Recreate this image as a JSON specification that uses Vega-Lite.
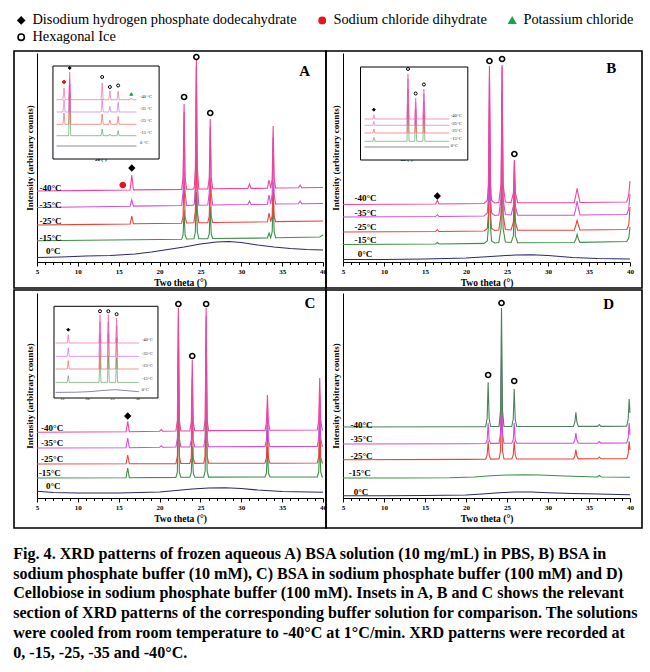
{
"$schema":"https://vega.github.io/schema/vega-lite/v6.json",
"padding":{"left":13,"top":8,"right":9,"bottom":4},
"background":"white",
"spacing":0,
"title":{"text":["Fig. 4. XRD patterns of frozen aqueous A) BSA solution (10 mg/mL) in PBS, B) BSA in","sodium phosphate buffer (10 mM), C) BSA in sodium phosphate buffer (100 mM) and D)","Cellobiose in sodium phosphate buffer (100 mM). Insets in A, B and C shows the relevant","section of XRD patterns of the corresponding buffer solution for comparison. The solutions","were cooled from room temperature to -40°C at 1°C/min. XRD patterns were recorded at","0, -15, -25, -35 and -40°C."],"orient":"bottom","anchor":"start","font":"Liberation Serif","fontSize":16.1,"fontWeight":"bold","color":"black","lineHeight":19.8,"offset":17},
"config":{
"font":"Liberation Serif",
"view":{"stroke":"black","strokeWidth":1.6},
"axis":{"grid":false,"domainColor":"black","tickColor":"black","labelColor":"black","titleColor":"black","labelFont":"Liberation Serif","titleFont":"Liberation Serif","labelFontWeight":"bold","titleFontWeight":"bold"},
"legend":{"orient":"none","legendX":0,"legendY":5,"direction":"horizontal","columns":3,"labelFont":"Liberation Serif","labelFontSize":14.4,"labelColor":"black","symbolSize":40,"symbolStrokeWidth":1.6,"columnPadding":18,"rowPadding":2,"labelLimit":400},
"text":{"color":"black","font":"Liberation Serif"}
},
"datasets":{
"lines":[
{"p":"A","s":"0","x":5,"y":4.5},{"p":"A","s":"0","x":8,"y":5},{"p":"A","s":"0","x":11,"y":6},{"p":"A","s":"0","x":14,"y":6.5},{"p":"A","s":"0","x":17,"y":8},{"p":"A","s":"0","x":19,"y":10},{"p":"A","s":"0","x":21,"y":12.5},{"p":"A","s":"0","x":23,"y":15},{"p":"A","s":"0","x":25,"y":18},{"p":"A","s":"0","x":27,"y":20},{"p":"A","s":"0","x":28.5,"y":20.5},{"p":"A","s":"0","x":30,"y":19.5},{"p":"A","s":"0","x":32,"y":17},{"p":"A","s":"0","x":34,"y":15},{"p":"A","s":"0","x":36,"y":13.5},{"p":"A","s":"0","x":38,"y":12.5},{"p":"A","s":"0","x":40,"y":12},
{"p":"A","s":"-15","x":5,"y":21.3},{"p":"A","s":"-15","x":14,"y":22},{"p":"A","s":"-15","x":22.7,"y":22.8},{"p":"A","s":"-15","x":22.88,"y":27},{"p":"A","s":"-15","x":23.0,"y":52},{"p":"A","s":"-15","x":23.12,"y":27},{"p":"A","s":"-15","x":23.3,"y":23},{"p":"A","s":"-15","x":24.2,"y":23.2},{"p":"A","s":"-15","x":24.38,"y":30},{"p":"A","s":"-15","x":24.5,"y":70},{"p":"A","s":"-15","x":24.62,"y":30},{"p":"A","s":"-15","x":24.8,"y":23.3},{"p":"A","s":"-15","x":25.9,"y":23.4},{"p":"A","s":"-15","x":26.08,"y":28},{"p":"A","s":"-15","x":26.2,"y":55},{"p":"A","s":"-15","x":26.32,"y":28},{"p":"A","s":"-15","x":26.5,"y":23.5},{"p":"A","s":"-15","x":33.2,"y":24},{"p":"A","s":"-15","x":33.4,"y":29},{"p":"A","s":"-15","x":33.6,"y":24.2},{"p":"A","s":"-15","x":33.78,"y":30},{"p":"A","s":"-15","x":33.9,"y":65},{"p":"A","s":"-15","x":34.02,"y":30},{"p":"A","s":"-15","x":34.2,"y":24.3},{"p":"A","s":"-15","x":39.6,"y":25},{"p":"A","s":"-15","x":40,"y":27},
{"p":"A","s":"-25","x":5,"y":37},{"p":"A","s":"-25","x":12,"y":37.6},{"p":"A","s":"-25","x":16.4,"y":38},{"p":"A","s":"-25","x":16.6,"y":46},{"p":"A","s":"-25","x":16.8,"y":38.2},{"p":"A","s":"-25","x":22.7,"y":38.8},{"p":"A","s":"-25","x":22.88,"y":46},{"p":"A","s":"-25","x":23.0,"y":90},{"p":"A","s":"-25","x":23.12,"y":46},{"p":"A","s":"-25","x":23.3,"y":39},{"p":"A","s":"-25","x":24.2,"y":39.2},{"p":"A","s":"-25","x":24.38,"y":51},{"p":"A","s":"-25","x":24.5,"y":120},{"p":"A","s":"-25","x":24.62,"y":51},{"p":"A","s":"-25","x":24.8,"y":39.3},{"p":"A","s":"-25","x":25.9,"y":39.4},{"p":"A","s":"-25","x":26.08,"y":46},{"p":"A","s":"-25","x":26.2,"y":85},{"p":"A","s":"-25","x":26.32,"y":46},{"p":"A","s":"-25","x":26.5,"y":39.5},{"p":"A","s":"-25","x":33.2,"y":40.2},{"p":"A","s":"-25","x":33.4,"y":49},{"p":"A","s":"-25","x":33.6,"y":40.3},{"p":"A","s":"-25","x":33.78,"y":46},{"p":"A","s":"-25","x":33.9,"y":80},{"p":"A","s":"-25","x":34.02,"y":46},{"p":"A","s":"-25","x":34.2,"y":40.4},{"p":"A","s":"-25","x":40,"y":41},
{"p":"A","s":"-35","x":5,"y":54.5},{"p":"A","s":"-35","x":12,"y":55.3},{"p":"A","s":"-35","x":16.4,"y":55.8},{"p":"A","s":"-35","x":16.6,"y":62},{"p":"A","s":"-35","x":16.8,"y":55.9},{"p":"A","s":"-35","x":22.7,"y":56.5},{"p":"A","s":"-35","x":22.88,"y":70},{"p":"A","s":"-35","x":23.0,"y":150},{"p":"A","s":"-35","x":23.12,"y":70},{"p":"A","s":"-35","x":23.3,"y":56.6},{"p":"A","s":"-35","x":24.1,"y":56.7},{"p":"A","s":"-35","x":24.25,"y":58},{"p":"A","s":"-35","x":24.38,"y":78},{"p":"A","s":"-35","x":24.5,"y":195},{"p":"A","s":"-35","x":24.62,"y":78},{"p":"A","s":"-35","x":24.8,"y":56.8},{"p":"A","s":"-35","x":25.9,"y":57},{"p":"A","s":"-35","x":26.08,"y":69},{"p":"A","s":"-35","x":26.2,"y":135},{"p":"A","s":"-35","x":26.32,"y":69},{"p":"A","s":"-35","x":26.5,"y":57},{"p":"A","s":"-35","x":30.8,"y":57.5},{"p":"A","s":"-35","x":31.0,"y":61},{"p":"A","s":"-35","x":31.2,"y":57.5},{"p":"A","s":"-35","x":33.2,"y":57.8},{"p":"A","s":"-35","x":33.4,"y":67},{"p":"A","s":"-35","x":33.6,"y":57.9},{"p":"A","s":"-35","x":33.78,"y":68},{"p":"A","s":"-35","x":33.9,"y":125},{"p":"A","s":"-35","x":34.02,"y":68},{"p":"A","s":"-35","x":34.2,"y":58},{"p":"A","s":"-35","x":37.0,"y":58.2},{"p":"A","s":"-35","x":37.2,"y":61},{"p":"A","s":"-35","x":37.4,"y":58.2},{"p":"A","s":"-35","x":40,"y":58.5},
{"p":"A","s":"-40","x":5,"y":71},{"p":"A","s":"-40","x":12,"y":71.6},{"p":"A","s":"-40","x":16.4,"y":72},{"p":"A","s":"-40","x":16.6,"y":87},{"p":"A","s":"-40","x":16.8,"y":72.1},{"p":"A","s":"-40","x":22.7,"y":72.6},{"p":"A","s":"-40","x":22.88,"y":85},{"p":"A","s":"-40","x":23.0,"y":158},{"p":"A","s":"-40","x":23.12,"y":85},{"p":"A","s":"-40","x":23.3,"y":72.7},{"p":"A","s":"-40","x":24.1,"y":72.9},{"p":"A","s":"-40","x":24.25,"y":74.5},{"p":"A","s":"-40","x":24.38,"y":94},{"p":"A","s":"-40","x":24.5,"y":204},{"p":"A","s":"-40","x":24.62,"y":94},{"p":"A","s":"-40","x":24.8,"y":73},{"p":"A","s":"-40","x":25.9,"y":73.1},{"p":"A","s":"-40","x":26.08,"y":84},{"p":"A","s":"-40","x":26.2,"y":143},{"p":"A","s":"-40","x":26.32,"y":84},{"p":"A","s":"-40","x":26.5,"y":73.2},{"p":"A","s":"-40","x":30.8,"y":73.6},{"p":"A","s":"-40","x":31.0,"y":78},{"p":"A","s":"-40","x":31.2,"y":73.6},{"p":"A","s":"-40","x":33.2,"y":73.8},{"p":"A","s":"-40","x":33.4,"y":82},{"p":"A","s":"-40","x":33.6,"y":73.9},{"p":"A","s":"-40","x":33.78,"y":83},{"p":"A","s":"-40","x":33.9,"y":136},{"p":"A","s":"-40","x":34.02,"y":83},{"p":"A","s":"-40","x":34.2,"y":74},{"p":"A","s":"-40","x":37.0,"y":74.2},{"p":"A","s":"-40","x":37.2,"y":77},{"p":"A","s":"-40","x":37.4,"y":74.2},{"p":"A","s":"-40","x":40,"y":74.5},

{"p":"B","s":"0","x":5,"y":2.5},{"p":"B","s":"0","x":10,"y":2.5},{"p":"B","s":"0","x":15,"y":3},{"p":"B","s":"0","x":20,"y":4},{"p":"B","s":"0","x":23,"y":5.5},{"p":"B","s":"0","x":26,"y":7},{"p":"B","s":"0","x":28,"y":7.3},{"p":"B","s":"0","x":30,"y":6.5},{"p":"B","s":"0","x":33,"y":4.5},{"p":"B","s":"0","x":36,"y":3.5},{"p":"B","s":"0","x":40,"y":3},
{"p":"B","s":"-15","x":5,"y":17.5},{"p":"B","s":"-15","x":16.3,"y":18},{"p":"B","s":"-15","x":16.5,"y":19.5},{"p":"B","s":"-15","x":16.7,"y":18},{"p":"B","s":"-15","x":22.2,"y":18.6},{"p":"B","s":"-15","x":22.6,"y":21},{"p":"B","s":"-15","x":22.74,"y":36},{"p":"B","s":"-15","x":22.86,"y":120},{"p":"B","s":"-15","x":22.98,"y":36},{"p":"B","s":"-15","x":23.12,"y":21},{"p":"B","s":"-15","x":23.5,"y":19},{"p":"B","s":"-15","x":24.0,"y":19.5},{"p":"B","s":"-15","x":24.28,"y":34},{"p":"B","s":"-15","x":24.4,"y":130},{"p":"B","s":"-15","x":24.52,"y":34},{"p":"B","s":"-15","x":24.8,"y":20},{"p":"B","s":"-15","x":25.5,"y":19.5},{"p":"B","s":"-15","x":25.78,"y":26},{"p":"B","s":"-15","x":25.9,"y":60},{"p":"B","s":"-15","x":26.02,"y":26},{"p":"B","s":"-15","x":26.3,"y":19.3},{"p":"B","s":"-15","x":33.2,"y":19.5},{"p":"B","s":"-15","x":33.4,"y":23},{"p":"B","s":"-15","x":33.55,"y":27.7},{"p":"B","s":"-15","x":33.7,"y":23},{"p":"B","s":"-15","x":33.9,"y":19.6},{"p":"B","s":"-15","x":39.6,"y":20.5},{"p":"B","s":"-15","x":39.85,"y":24},{"p":"B","s":"-15","x":40,"y":35},
{"p":"B","s":"-25","x":5,"y":30},{"p":"B","s":"-25","x":16.3,"y":30.5},{"p":"B","s":"-25","x":16.5,"y":32.5},{"p":"B","s":"-25","x":16.7,"y":30.5},{"p":"B","s":"-25","x":22.2,"y":31},{"p":"B","s":"-25","x":22.6,"y":33.5},{"p":"B","s":"-25","x":22.74,"y":50},{"p":"B","s":"-25","x":22.86,"y":160},{"p":"B","s":"-25","x":22.98,"y":50},{"p":"B","s":"-25","x":23.12,"y":33.5},{"p":"B","s":"-25","x":23.5,"y":31.5},{"p":"B","s":"-25","x":24.0,"y":32},{"p":"B","s":"-25","x":24.28,"y":48},{"p":"B","s":"-25","x":24.4,"y":170},{"p":"B","s":"-25","x":24.52,"y":48},{"p":"B","s":"-25","x":24.8,"y":32.5},{"p":"B","s":"-25","x":25.5,"y":32},{"p":"B","s":"-25","x":25.78,"y":40},{"p":"B","s":"-25","x":25.9,"y":85},{"p":"B","s":"-25","x":26.02,"y":40},{"p":"B","s":"-25","x":26.3,"y":31.8},{"p":"B","s":"-25","x":33.2,"y":31.8},{"p":"B","s":"-25","x":33.4,"y":37},{"p":"B","s":"-25","x":33.55,"y":41.7},{"p":"B","s":"-25","x":33.7,"y":37},{"p":"B","s":"-25","x":33.9,"y":32},{"p":"B","s":"-25","x":39.6,"y":32.5},{"p":"B","s":"-25","x":39.85,"y":37},{"p":"B","s":"-25","x":40,"y":55},
{"p":"B","s":"-35","x":5,"y":45},{"p":"B","s":"-35","x":16.3,"y":45.5},{"p":"B","s":"-35","x":16.5,"y":47.5},{"p":"B","s":"-35","x":16.7,"y":45.5},{"p":"B","s":"-35","x":22.2,"y":46},{"p":"B","s":"-35","x":22.6,"y":49},{"p":"B","s":"-35","x":22.74,"y":66},{"p":"B","s":"-35","x":22.86,"y":185},{"p":"B","s":"-35","x":22.98,"y":66},{"p":"B","s":"-35","x":23.12,"y":49},{"p":"B","s":"-35","x":23.5,"y":46.5},{"p":"B","s":"-35","x":24.0,"y":47},{"p":"B","s":"-35","x":24.28,"y":64},{"p":"B","s":"-35","x":24.4,"y":195},{"p":"B","s":"-35","x":24.52,"y":64},{"p":"B","s":"-35","x":24.8,"y":47.5},{"p":"B","s":"-35","x":25.5,"y":47},{"p":"B","s":"-35","x":25.78,"y":56},{"p":"B","s":"-35","x":25.9,"y":100},{"p":"B","s":"-35","x":26.02,"y":56},{"p":"B","s":"-35","x":26.3,"y":46.8},{"p":"B","s":"-35","x":33.2,"y":46.8},{"p":"B","s":"-35","x":33.4,"y":54},{"p":"B","s":"-35","x":33.55,"y":61},{"p":"B","s":"-35","x":33.7,"y":54},{"p":"B","s":"-35","x":33.9,"y":47},{"p":"B","s":"-35","x":39.6,"y":47.5},{"p":"B","s":"-35","x":39.85,"y":53},{"p":"B","s":"-35","x":40,"y":68},
{"p":"B","s":"-40","x":5,"y":57.5},{"p":"B","s":"-40","x":16.3,"y":58},{"p":"B","s":"-40","x":16.5,"y":61.5},{"p":"B","s":"-40","x":16.7,"y":58},{"p":"B","s":"-40","x":22.2,"y":58.5},{"p":"B","s":"-40","x":22.6,"y":61.5},{"p":"B","s":"-40","x":22.74,"y":80},{"p":"B","s":"-40","x":22.86,"y":196},{"p":"B","s":"-40","x":22.98,"y":80},{"p":"B","s":"-40","x":23.12,"y":61.5},{"p":"B","s":"-40","x":23.5,"y":59},{"p":"B","s":"-40","x":24.0,"y":59.5},{"p":"B","s":"-40","x":24.28,"y":78},{"p":"B","s":"-40","x":24.4,"y":197},{"p":"B","s":"-40","x":24.52,"y":78},{"p":"B","s":"-40","x":24.8,"y":60},{"p":"B","s":"-40","x":25.5,"y":59.5},{"p":"B","s":"-40","x":25.78,"y":69},{"p":"B","s":"-40","x":25.9,"y":102},{"p":"B","s":"-40","x":26.02,"y":69},{"p":"B","s":"-40","x":26.3,"y":59.3},{"p":"B","s":"-40","x":33.2,"y":59.3},{"p":"B","s":"-40","x":33.4,"y":67},{"p":"B","s":"-40","x":33.55,"y":73.7},{"p":"B","s":"-40","x":33.7,"y":67},{"p":"B","s":"-40","x":33.9,"y":59.5},{"p":"B","s":"-40","x":39.6,"y":60},{"p":"B","s":"-40","x":39.85,"y":67},{"p":"B","s":"-40","x":40,"y":81},

{"p":"C","s":"0","x":5,"y":6.7},{"p":"C","s":"0","x":7,"y":5.5},{"p":"C","s":"0","x":10,"y":5},{"p":"C","s":"0","x":15,"y":5},{"p":"C","s":"0","x":20,"y":6},{"p":"C","s":"0","x":22,"y":7.5},{"p":"C","s":"0","x":24,"y":9},{"p":"C","s":"0","x":26,"y":10},{"p":"C","s":"0","x":28,"y":10.3},{"p":"C","s":"0","x":30,"y":9.5},{"p":"C","s":"0","x":32,"y":8},{"p":"C","s":"0","x":35,"y":6.5},{"p":"C","s":"0","x":40,"y":5.7},
{"p":"C","s":"-15","x":5,"y":20},{"p":"C","s":"-15","x":15.9,"y":20.3},{"p":"C","s":"-15","x":16.1,"y":30},{"p":"C","s":"-15","x":16.3,"y":20.3},{"p":"C","s":"-15","x":22.0,"y":20.6},{"p":"C","s":"-15","x":22.18,"y":26},{"p":"C","s":"-15","x":22.3,"y":120},{"p":"C","s":"-15","x":22.42,"y":26},{"p":"C","s":"-15","x":22.6,"y":20.7},{"p":"C","s":"-15","x":23.7,"y":20.8},{"p":"C","s":"-15","x":23.88,"y":25},{"p":"C","s":"-15","x":24.0,"y":51.7},{"p":"C","s":"-15","x":24.12,"y":25},{"p":"C","s":"-15","x":24.3,"y":20.8},{"p":"C","s":"-15","x":25.4,"y":20.9},{"p":"C","s":"-15","x":25.58,"y":27},{"p":"C","s":"-15","x":25.7,"y":125},{"p":"C","s":"-15","x":25.82,"y":27},{"p":"C","s":"-15","x":26.0,"y":20.9},{"p":"C","s":"-15","x":32.9,"y":21},{"p":"C","s":"-15","x":33.08,"y":25},{"p":"C","s":"-15","x":33.2,"y":51.7},{"p":"C","s":"-15","x":33.32,"y":25},{"p":"C","s":"-15","x":33.5,"y":21},{"p":"C","s":"-15","x":39.3,"y":21},{"p":"C","s":"-15","x":39.48,"y":26},{"p":"C","s":"-15","x":39.6,"y":58},{"p":"C","s":"-15","x":39.72,"y":26},{"p":"C","s":"-15","x":39.9,"y":21},{"p":"C","s":"-15","x":40,"y":21},
{"p":"C","s":"-25","x":5,"y":34},{"p":"C","s":"-25","x":15.9,"y":34.2},{"p":"C","s":"-25","x":16.1,"y":43},{"p":"C","s":"-25","x":16.3,"y":34.2},{"p":"C","s":"-25","x":22.0,"y":34.4},{"p":"C","s":"-25","x":22.18,"y":42},{"p":"C","s":"-25","x":22.3,"y":150},{"p":"C","s":"-25","x":22.42,"y":42},{"p":"C","s":"-25","x":22.6,"y":34.5},{"p":"C","s":"-25","x":23.7,"y":34.6},{"p":"C","s":"-25","x":23.88,"y":40},{"p":"C","s":"-25","x":24.0,"y":95},{"p":"C","s":"-25","x":24.12,"y":40},{"p":"C","s":"-25","x":24.3,"y":34.6},{"p":"C","s":"-25","x":25.4,"y":34.7},{"p":"C","s":"-25","x":25.58,"y":42},{"p":"C","s":"-25","x":25.7,"y":155},{"p":"C","s":"-25","x":25.82,"y":42},{"p":"C","s":"-25","x":26.0,"y":34.7},{"p":"C","s":"-25","x":32.9,"y":34.8},{"p":"C","s":"-25","x":33.08,"y":40},{"p":"C","s":"-25","x":33.2,"y":75},{"p":"C","s":"-25","x":33.32,"y":40},{"p":"C","s":"-25","x":33.5,"y":34.8},{"p":"C","s":"-25","x":39.3,"y":35},{"p":"C","s":"-25","x":39.48,"y":41},{"p":"C","s":"-25","x":39.6,"y":85},{"p":"C","s":"-25","x":39.72,"y":41},{"p":"C","s":"-25","x":39.9,"y":35},{"p":"C","s":"-25","x":40,"y":35},
{"p":"C","s":"-35","x":5,"y":50},{"p":"C","s":"-35","x":15.9,"y":50.3},{"p":"C","s":"-35","x":16.1,"y":60},{"p":"C","s":"-35","x":16.3,"y":50.3},{"p":"C","s":"-35","x":20.0,"y":50.8},{"p":"C","s":"-35","x":20.2,"y":52},{"p":"C","s":"-35","x":20.4,"y":50.8},{"p":"C","s":"-35","x":22.0,"y":51},{"p":"C","s":"-35","x":22.18,"y":60},{"p":"C","s":"-35","x":22.3,"y":180},{"p":"C","s":"-35","x":22.42,"y":60},{"p":"C","s":"-35","x":22.6,"y":51},{"p":"C","s":"-35","x":23.7,"y":51},{"p":"C","s":"-35","x":23.88,"y":58},{"p":"C","s":"-35","x":24.0,"y":120},{"p":"C","s":"-35","x":24.12,"y":58},{"p":"C","s":"-35","x":24.3,"y":51},{"p":"C","s":"-35","x":25.4,"y":51.2},{"p":"C","s":"-35","x":25.58,"y":60},{"p":"C","s":"-35","x":25.7,"y":182},{"p":"C","s":"-35","x":25.82,"y":60},{"p":"C","s":"-35","x":26.0,"y":51.2},{"p":"C","s":"-35","x":32.9,"y":51.4},{"p":"C","s":"-35","x":33.08,"y":58},{"p":"C","s":"-35","x":33.2,"y":90},{"p":"C","s":"-35","x":33.32,"y":58},{"p":"C","s":"-35","x":33.5,"y":51.4},{"p":"C","s":"-35","x":39.3,"y":51.6},{"p":"C","s":"-35","x":39.48,"y":60},{"p":"C","s":"-35","x":39.6,"y":105},{"p":"C","s":"-35","x":39.72,"y":60},{"p":"C","s":"-35","x":39.9,"y":51.7},{"p":"C","s":"-35","x":40,"y":51.7},
{"p":"C","s":"-40","x":5,"y":65.7},{"p":"C","s":"-40","x":15.9,"y":66.3},{"p":"C","s":"-40","x":16.1,"y":76.7},{"p":"C","s":"-40","x":16.3,"y":66.3},{"p":"C","s":"-40","x":20.0,"y":66.8},{"p":"C","s":"-40","x":20.2,"y":68.5},{"p":"C","s":"-40","x":20.4,"y":66.8},{"p":"C","s":"-40","x":22.0,"y":67},{"p":"C","s":"-40","x":22.18,"y":78},{"p":"C","s":"-40","x":22.3,"y":190},{"p":"C","s":"-40","x":22.42,"y":78},{"p":"C","s":"-40","x":22.6,"y":67},{"p":"C","s":"-40","x":23.7,"y":67},{"p":"C","s":"-40","x":23.88,"y":76},{"p":"C","s":"-40","x":24.0,"y":138},{"p":"C","s":"-40","x":24.12,"y":76},{"p":"C","s":"-40","x":24.3,"y":67.2},{"p":"C","s":"-40","x":25.4,"y":67.3},{"p":"C","s":"-40","x":25.58,"y":78},{"p":"C","s":"-40","x":25.7,"y":190},{"p":"C","s":"-40","x":25.82,"y":78},{"p":"C","s":"-40","x":26.0,"y":67.4},{"p":"C","s":"-40","x":32.9,"y":67.6},{"p":"C","s":"-40","x":33.08,"y":76},{"p":"C","s":"-40","x":33.2,"y":103},{"p":"C","s":"-40","x":33.32,"y":76},{"p":"C","s":"-40","x":33.5,"y":67.7},{"p":"C","s":"-40","x":39.3,"y":68},{"p":"C","s":"-40","x":39.48,"y":78},{"p":"C","s":"-40","x":39.6,"y":120},{"p":"C","s":"-40","x":39.72,"y":78},{"p":"C","s":"-40","x":39.9,"y":68.2},{"p":"C","s":"-40","x":40,"y":68.3},

{"p":"D","s":"0","x":5,"y":2.3},{"p":"D","s":"0","x":10,"y":2.3},{"p":"D","s":"0","x":15,"y":2.5},{"p":"D","s":"0","x":20,"y":3},{"p":"D","s":"0","x":22,"y":4},{"p":"D","s":"0","x":24,"y":5.3},{"p":"D","s":"0","x":26,"y":6},{"p":"D","s":"0","x":28,"y":6},{"p":"D","s":"0","x":30,"y":5.3},{"p":"D","s":"0","x":33,"y":4.5},{"p":"D","s":"0","x":36,"y":4},{"p":"D","s":"0","x":40,"y":3.3},
{"p":"D","s":"-15","x":5,"y":20},{"p":"D","s":"-15","x":12,"y":20},{"p":"D","s":"-15","x":18,"y":20.3},{"p":"D","s":"-15","x":21,"y":21},{"p":"D","s":"-15","x":23,"y":22.3},{"p":"D","s":"-15","x":25,"y":23},{"p":"D","s":"-15","x":27,"y":23.3},{"p":"D","s":"-15","x":29,"y":23},{"p":"D","s":"-15","x":32,"y":22},{"p":"D","s":"-15","x":36,"y":21},{"p":"D","s":"-15","x":36.25,"y":22.5},{"p":"D","s":"-15","x":36.5,"y":21},{"p":"D","s":"-15","x":40,"y":20.7},
{"p":"D","s":"-25","x":5,"y":38.3},{"p":"D","s":"-25","x":20,"y":38.6},{"p":"D","s":"-25","x":22.4,"y":38.8},{"p":"D","s":"-25","x":22.58,"y":43},{"p":"D","s":"-25","x":22.7,"y":56.7},{"p":"D","s":"-25","x":22.82,"y":43},{"p":"D","s":"-25","x":23.0,"y":38.9},{"p":"D","s":"-25","x":24.03,"y":39},{"p":"D","s":"-25","x":24.21,"y":47},{"p":"D","s":"-25","x":24.33,"y":100},{"p":"D","s":"-25","x":24.45,"y":47},{"p":"D","s":"-25","x":24.63,"y":39},{"p":"D","s":"-25","x":25.58,"y":39},{"p":"D","s":"-25","x":25.76,"y":43},{"p":"D","s":"-25","x":25.88,"y":56.7},{"p":"D","s":"-25","x":26.0,"y":43},{"p":"D","s":"-25","x":26.18,"y":39},{"p":"D","s":"-25","x":33.1,"y":39.1},{"p":"D","s":"-25","x":33.28,"y":42},{"p":"D","s":"-25","x":33.4,"y":48.3},{"p":"D","s":"-25","x":33.52,"y":42},{"p":"D","s":"-25","x":33.7,"y":39.1},{"p":"D","s":"-25","x":36.06,"y":39.2},{"p":"D","s":"-25","x":36.26,"y":41},{"p":"D","s":"-25","x":36.46,"y":39.2},{"p":"D","s":"-25","x":39.6,"y":39.3},{"p":"D","s":"-25","x":39.78,"y":44},{"p":"D","s":"-25","x":39.9,"y":56.7},{"p":"D","s":"-25","x":40,"y":48},
{"p":"D","s":"-35","x":5,"y":54},{"p":"D","s":"-35","x":20,"y":54.3},{"p":"D","s":"-35","x":22.4,"y":54.5},{"p":"D","s":"-35","x":22.58,"y":58},{"p":"D","s":"-35","x":22.7,"y":75},{"p":"D","s":"-35","x":22.82,"y":58},{"p":"D","s":"-35","x":23.0,"y":54.6},{"p":"D","s":"-35","x":24.03,"y":54.6},{"p":"D","s":"-35","x":24.21,"y":65},{"p":"D","s":"-35","x":24.33,"y":140},{"p":"D","s":"-35","x":24.45,"y":65},{"p":"D","s":"-35","x":24.63,"y":54.7},{"p":"D","s":"-35","x":25.58,"y":54.7},{"p":"D","s":"-35","x":25.76,"y":58},{"p":"D","s":"-35","x":25.88,"y":75},{"p":"D","s":"-35","x":26.0,"y":58},{"p":"D","s":"-35","x":26.18,"y":54.7},{"p":"D","s":"-35","x":33.1,"y":54.8},{"p":"D","s":"-35","x":33.28,"y":58},{"p":"D","s":"-35","x":33.4,"y":65},{"p":"D","s":"-35","x":33.52,"y":58},{"p":"D","s":"-35","x":33.7,"y":54.8},{"p":"D","s":"-35","x":36.06,"y":54.9},{"p":"D","s":"-35","x":36.26,"y":56.5},{"p":"D","s":"-35","x":36.46,"y":54.9},{"p":"D","s":"-35","x":39.6,"y":55},{"p":"D","s":"-35","x":39.78,"y":60},{"p":"D","s":"-35","x":39.9,"y":75},{"p":"D","s":"-35","x":40,"y":63},
{"p":"D","s":"-40D","x":5,"y":71},{"p":"D","s":"-40D","x":20,"y":71.2},{"p":"D","s":"-40D","x":22.4,"y":71.4},{"p":"D","s":"-40D","x":22.58,"y":80},{"p":"D","s":"-40D","x":22.7,"y":115.7},{"p":"D","s":"-40D","x":22.82,"y":80},{"p":"D","s":"-40D","x":23.0,"y":71.5},{"p":"D","s":"-40D","x":24.03,"y":71.5},{"p":"D","s":"-40D","x":24.21,"y":88},{"p":"D","s":"-40D","x":24.33,"y":190},{"p":"D","s":"-40D","x":24.45,"y":88},{"p":"D","s":"-40D","x":24.63,"y":71.5},{"p":"D","s":"-40D","x":25.58,"y":71.5},{"p":"D","s":"-40D","x":25.76,"y":79},{"p":"D","s":"-40D","x":25.88,"y":109},{"p":"D","s":"-40D","x":26.0,"y":79},{"p":"D","s":"-40D","x":26.18,"y":71.5},{"p":"D","s":"-40D","x":33.1,"y":71.6},{"p":"D","s":"-40D","x":33.28,"y":76},{"p":"D","s":"-40D","x":33.4,"y":85.7},{"p":"D","s":"-40D","x":33.52,"y":76},{"p":"D","s":"-40D","x":33.7,"y":71.6},{"p":"D","s":"-40D","x":36.06,"y":71.6},{"p":"D","s":"-40D","x":36.26,"y":73.5},{"p":"D","s":"-40D","x":36.46,"y":71.6},{"p":"D","s":"-40D","x":39.6,"y":71.7},{"p":"D","s":"-40D","x":39.78,"y":79},{"p":"D","s":"-40D","x":39.9,"y":99},{"p":"D","s":"-40D","x":40,"y":85}
],
"ilines":[
{"p":"A","s":"0","x":14,"y":3},{"p":"A","s":"0","x":29.5,"y":3},
{"p":"A","s":"-15","x":14,"y":13.3},{"p":"A","s":"-15","x":16.35,"y":13.3},{"p":"A","s":"-15","x":16.55,"y":55},{"p":"A","s":"-15","x":16.75,"y":13.3},{"p":"A","s":"-15","x":22.65,"y":13.3},{"p":"A","s":"-15","x":22.85,"y":20},{"p":"A","s":"-15","x":23.05,"y":13.3},{"p":"A","s":"-15","x":24.15,"y":13.3},{"p":"A","s":"-15","x":24.35,"y":15},{"p":"A","s":"-15","x":24.55,"y":13.3},{"p":"A","s":"-15","x":25.75,"y":13.3},{"p":"A","s":"-15","x":25.95,"y":18.3},{"p":"A","s":"-15","x":26.15,"y":13.3},{"p":"A","s":"-15","x":29.5,"y":13.3},
{"p":"A","s":"-25","x":14,"y":24.7},{"p":"A","s":"-25","x":15.25,"y":24.7},{"p":"A","s":"-25","x":15.45,"y":36},{"p":"A","s":"-25","x":15.65,"y":24.7},{"p":"A","s":"-25","x":16.35,"y":24.7},{"p":"A","s":"-25","x":16.55,"y":65},{"p":"A","s":"-25","x":16.75,"y":24.7},{"p":"A","s":"-25","x":22.65,"y":24.7},{"p":"A","s":"-25","x":22.85,"y":35},{"p":"A","s":"-25","x":23.05,"y":24.7},{"p":"A","s":"-25","x":24.15,"y":24.7},{"p":"A","s":"-25","x":24.35,"y":28.7},{"p":"A","s":"-25","x":24.55,"y":24.7},{"p":"A","s":"-25","x":25.75,"y":24.7},{"p":"A","s":"-25","x":25.95,"y":32.7},{"p":"A","s":"-25","x":26.15,"y":24.7},{"p":"A","s":"-25","x":29.5,"y":24.7},
{"p":"A","s":"-35","x":14,"y":37},{"p":"A","s":"-35","x":15.25,"y":37},{"p":"A","s":"-35","x":15.45,"y":49},{"p":"A","s":"-35","x":15.65,"y":37},{"p":"A","s":"-35","x":16.35,"y":37},{"p":"A","s":"-35","x":16.55,"y":70},{"p":"A","s":"-35","x":16.75,"y":37},{"p":"A","s":"-35","x":22.65,"y":37},{"p":"A","s":"-35","x":22.85,"y":50},{"p":"A","s":"-35","x":23.05,"y":37},{"p":"A","s":"-35","x":24.15,"y":37},{"p":"A","s":"-35","x":24.35,"y":42.7},{"p":"A","s":"-35","x":24.55,"y":37},{"p":"A","s":"-35","x":25.75,"y":37},{"p":"A","s":"-35","x":25.95,"y":46.7},{"p":"A","s":"-35","x":26.15,"y":37},{"p":"A","s":"-35","x":29.5,"y":37},
{"p":"A","s":"-40","x":14,"y":49.3},{"p":"A","s":"-40","x":15.25,"y":49.3},{"p":"A","s":"-40","x":15.45,"y":61},{"p":"A","s":"-40","x":15.65,"y":49.3},{"p":"A","s":"-40","x":16.35,"y":49.3},{"p":"A","s":"-40","x":16.55,"y":77},{"p":"A","s":"-40","x":16.75,"y":49.3},{"p":"A","s":"-40","x":22.65,"y":49.3},{"p":"A","s":"-40","x":22.85,"y":66},{"p":"A","s":"-40","x":23.05,"y":49.3},{"p":"A","s":"-40","x":24.15,"y":49.3},{"p":"A","s":"-40","x":24.35,"y":57.7},{"p":"A","s":"-40","x":24.55,"y":49.3},{"p":"A","s":"-40","x":25.75,"y":49.3},{"p":"A","s":"-40","x":25.95,"y":57.7},{"p":"A","s":"-40","x":26.15,"y":49.3},{"p":"A","s":"-40","x":28.3,"y":49.3},{"p":"A","s":"-40","x":28.5,"y":51},{"p":"A","s":"-40","x":28.7,"y":49.3},{"p":"A","s":"-40","x":29.5,"y":49.3},

{"p":"B","s":"0","x":14.4,"y":2},{"p":"B","s":"0","x":30.9,"y":2},
{"p":"B","s":"-15","x":14.4,"y":7.7},{"p":"B","s":"-15","x":16.0,"y":7.7},{"p":"B","s":"-15","x":16.2,"y":11.5},{"p":"B","s":"-15","x":16.4,"y":7.7},{"p":"B","s":"-15","x":22.65,"y":7.7},{"p":"B","s":"-15","x":22.85,"y":45},{"p":"B","s":"-15","x":23.05,"y":7.7},{"p":"B","s":"-15","x":24.15,"y":7.7},{"p":"B","s":"-15","x":24.35,"y":30},{"p":"B","s":"-15","x":24.55,"y":7.7},{"p":"B","s":"-15","x":25.75,"y":7.7},{"p":"B","s":"-15","x":25.95,"y":35},{"p":"B","s":"-15","x":26.15,"y":7.7},{"p":"B","s":"-15","x":30.9,"y":7.7},
{"p":"B","s":"-25","x":14.4,"y":16},{"p":"B","s":"-25","x":16.0,"y":16},{"p":"B","s":"-25","x":16.2,"y":20},{"p":"B","s":"-25","x":16.4,"y":16},{"p":"B","s":"-25","x":22.65,"y":16},{"p":"B","s":"-25","x":22.85,"y":60},{"p":"B","s":"-25","x":23.05,"y":16},{"p":"B","s":"-25","x":24.15,"y":16},{"p":"B","s":"-25","x":24.35,"y":40},{"p":"B","s":"-25","x":24.55,"y":16},{"p":"B","s":"-25","x":25.75,"y":16},{"p":"B","s":"-25","x":25.95,"y":47},{"p":"B","s":"-25","x":26.15,"y":16},{"p":"B","s":"-25","x":30.9,"y":16},
{"p":"B","s":"-35","x":14.4,"y":23.7},{"p":"B","s":"-35","x":16.0,"y":23.7},{"p":"B","s":"-35","x":16.2,"y":27.5},{"p":"B","s":"-35","x":16.4,"y":23.7},{"p":"B","s":"-35","x":22.65,"y":23.7},{"p":"B","s":"-35","x":22.85,"y":70},{"p":"B","s":"-35","x":23.05,"y":23.7},{"p":"B","s":"-35","x":24.15,"y":23.7},{"p":"B","s":"-35","x":24.35,"y":47},{"p":"B","s":"-35","x":24.55,"y":23.7},{"p":"B","s":"-35","x":25.75,"y":23.7},{"p":"B","s":"-35","x":25.95,"y":55},{"p":"B","s":"-35","x":26.15,"y":23.7},{"p":"B","s":"-35","x":30.9,"y":23.7},
{"p":"B","s":"-40","x":14.4,"y":30},{"p":"B","s":"-40","x":16.0,"y":30},{"p":"B","s":"-40","x":16.2,"y":34.3},{"p":"B","s":"-40","x":16.4,"y":30},{"p":"B","s":"-40","x":22.65,"y":30},{"p":"B","s":"-40","x":22.85,"y":75},{"p":"B","s":"-40","x":23.05,"y":30},{"p":"B","s":"-40","x":24.15,"y":30},{"p":"B","s":"-40","x":24.35,"y":51},{"p":"B","s":"-40","x":24.55,"y":30},{"p":"B","s":"-40","x":25.75,"y":30},{"p":"B","s":"-40","x":25.95,"y":60},{"p":"B","s":"-40","x":26.15,"y":30},{"p":"B","s":"-40","x":30.9,"y":30},

{"p":"C","s":"0","x":13.8,"y":1.3},{"p":"C","s":"0","x":18,"y":1.5},{"p":"C","s":"0","x":21,"y":2.2},{"p":"C","s":"0","x":23,"y":3.2},{"p":"C","s":"0","x":25.6,"y":4},{"p":"C","s":"0","x":28,"y":3},{"p":"C","s":"0","x":30.3,"y":2},
{"p":"C","s":"-15","x":13.8,"y":11.3},{"p":"C","s":"-15","x":16.1,"y":11.3},{"p":"C","s":"-15","x":16.3,"y":18},{"p":"C","s":"-15","x":16.5,"y":11.3},{"p":"C","s":"-15","x":22.4,"y":11.3},{"p":"C","s":"-15","x":22.6,"y":38},{"p":"C","s":"-15","x":22.8,"y":11.3},{"p":"C","s":"-15","x":24.05,"y":11.3},{"p":"C","s":"-15","x":24.25,"y":38},{"p":"C","s":"-15","x":24.45,"y":11.3},{"p":"C","s":"-15","x":25.7,"y":11.3},{"p":"C","s":"-15","x":25.9,"y":36},{"p":"C","s":"-15","x":26.1,"y":11.3},{"p":"C","s":"-15","x":30.3,"y":11.3},
{"p":"C","s":"-25","x":13.8,"y":24.7},{"p":"C","s":"-25","x":16.1,"y":24.7},{"p":"C","s":"-25","x":16.3,"y":33},{"p":"C","s":"-25","x":16.5,"y":24.7},{"p":"C","s":"-25","x":22.4,"y":24.7},{"p":"C","s":"-25","x":22.6,"y":60},{"p":"C","s":"-25","x":22.8,"y":24.7},{"p":"C","s":"-25","x":24.05,"y":24.7},{"p":"C","s":"-25","x":24.25,"y":60},{"p":"C","s":"-25","x":24.45,"y":24.7},{"p":"C","s":"-25","x":25.7,"y":24.7},{"p":"C","s":"-25","x":25.9,"y":56},{"p":"C","s":"-25","x":26.1,"y":24.7},{"p":"C","s":"-25","x":30.3,"y":24.7},
{"p":"C","s":"-35","x":13.8,"y":37.3},{"p":"C","s":"-35","x":16.1,"y":37.3},{"p":"C","s":"-35","x":16.3,"y":46},{"p":"C","s":"-35","x":16.5,"y":37.3},{"p":"C","s":"-35","x":22.4,"y":37.3},{"p":"C","s":"-35","x":22.6,"y":72},{"p":"C","s":"-35","x":22.8,"y":37.3},{"p":"C","s":"-35","x":24.05,"y":37.3},{"p":"C","s":"-35","x":24.25,"y":72},{"p":"C","s":"-35","x":24.45,"y":37.3},{"p":"C","s":"-35","x":25.7,"y":37.3},{"p":"C","s":"-35","x":25.9,"y":68},{"p":"C","s":"-35","x":26.1,"y":37.3},{"p":"C","s":"-35","x":30.3,"y":37.3},
{"p":"C","s":"-40","x":13.8,"y":50.7},{"p":"C","s":"-40","x":16.1,"y":50.7},{"p":"C","s":"-40","x":16.3,"y":59},{"p":"C","s":"-40","x":16.5,"y":50.7},{"p":"C","s":"-40","x":22.4,"y":50.7},{"p":"C","s":"-40","x":22.6,"y":79},{"p":"C","s":"-40","x":22.8,"y":50.7},{"p":"C","s":"-40","x":24.05,"y":50.7},{"p":"C","s":"-40","x":24.25,"y":79},{"p":"C","s":"-40","x":24.45,"y":50.7},{"p":"C","s":"-40","x":25.7,"y":50.7},{"p":"C","s":"-40","x":25.9,"y":75.7},{"p":"C","s":"-40","x":26.1,"y":50.7},{"p":"C","s":"-40","x":30.3,"y":50.7}
],
"marks":[
{"p":"A","ph":"Hexagonal Ice","x":23.0,"y":165},{"p":"A","ph":"Hexagonal Ice","x":24.5,"y":205},{"p":"A","ph":"Hexagonal Ice","x":26.2,"y":149},{"p":"A","ph":"Disodium hydrogen phosphate dodecahydrate","x":16.6,"y":94},{"p":"A","ph":"Sodium chloride dihydrate","x":15.5,"y":77},
{"p":"B","ph":"Hexagonal Ice","x":22.86,"y":201},{"p":"B","ph":"Hexagonal Ice","x":24.4,"y":203},{"p":"B","ph":"Hexagonal Ice","x":25.9,"y":108},{"p":"B","ph":"Disodium hydrogen phosphate dodecahydrate","x":16.5,"y":66},
{"p":"C","ph":"Hexagonal Ice","x":22.3,"y":194},{"p":"C","ph":"Hexagonal Ice","x":25.7,"y":194},{"p":"C","ph":"Hexagonal Ice","x":24.0,"y":142},{"p":"C","ph":"Disodium hydrogen phosphate dodecahydrate","x":16.1,"y":82},
{"p":"D","ph":"Hexagonal Ice","x":24.33,"y":195},{"p":"D","ph":"Hexagonal Ice","x":22.7,"y":123},{"p":"D","ph":"Hexagonal Ice","x":25.88,"y":117}
],
"imarks":[
{"p":"A","ph":"Sodium chloride dihydrate","x":15.45,"y":67},{"p":"A","ph":"Disodium hydrogen phosphate dodecahydrate","x":16.55,"y":81},{"p":"A","ph":"Hexagonal Ice","x":22.85,"y":72},{"p":"A","ph":"Hexagonal Ice","x":24.35,"y":62},{"p":"A","ph":"Hexagonal Ice","x":25.95,"y":63.5},{"p":"A","ph":"Potassium chloride","x":28.5,"y":55},
{"p":"B","ph":"Disodium hydrogen phosphate dodecahydrate","x":16.2,"y":39.3},{"p":"B","ph":"Hexagonal Ice","x":22.85,"y":80},{"p":"B","ph":"Hexagonal Ice","x":24.35,"y":55.5},{"p":"B","ph":"Hexagonal Ice","x":25.95,"y":64.5},
{"p":"C","ph":"Disodium hydrogen phosphate dodecahydrate","x":16.3,"y":64},{"p":"C","ph":"Hexagonal Ice","x":22.6,"y":82.5},{"p":"C","ph":"Hexagonal Ice","x":24.25,"y":82.5},{"p":"C","ph":"Hexagonal Ice","x":25.9,"y":79.5}
],
"labels":[
{"p":"A","t":"-40°C","x":5.3,"y":74.5},{"p":"A","t":"-35°C","x":5.3,"y":57},{"p":"A","t":"-25°C","x":5.3,"y":41.5},{"p":"A","t":"-15°C","x":5.3,"y":24.5},{"p":"A","t":"0°C","x":6.1,"y":11},
{"p":"B","t":"-40°C","x":6.4,"y":64},{"p":"B","t":"-35°C","x":6.4,"y":49},{"p":"B","t":"-25°C","x":6.4,"y":35},{"p":"B","t":"-15°C","x":6.4,"y":22},{"p":"B","t":"0°C","x":6.8,"y":8.5},
{"p":"C","t":"-40°C","x":5.5,"y":70},{"p":"C","t":"-35°C","x":5.5,"y":55},{"p":"C","t":"-25°C","x":5.5,"y":39.5},{"p":"C","t":"-15°C","x":5.2,"y":25},{"p":"C","t":"0°C","x":6.1,"y":12},
{"p":"D","t":"-40°C","x":5.9,"y":73.5},{"p":"D","t":"-35°C","x":5.9,"y":59},{"p":"D","t":"-25°C","x":5.9,"y":42},{"p":"D","t":"-15°C","x":5.7,"y":25},{"p":"D","t":"0°C","x":6.3,"y":6}
],
"ilabels":[
{"p":"A","t":"-40 °C","x":30.2,"y":52},{"p":"A","t":"-35 °C","x":30.2,"y":40.3},{"p":"A","t":"-25 °C","x":30.2,"y":27.7},{"p":"A","t":"-15 °C","x":30.2,"y":16},{"p":"A","t":"0 °C","x":30.2,"y":6},
{"p":"B","t":"-40°C","x":31.2,"y":32.7},{"p":"B","t":"-35°C","x":31.2,"y":25.3},{"p":"B","t":"-25°C","x":31.2,"y":17.7},{"p":"B","t":"-15°C","x":31.2,"y":10},{"p":"B","t":"0°C","x":31.2,"y":3},
{"p":"C","t":"-40°C","x":30.9,"y":54},{"p":"C","t":"-35°C","x":30.9,"y":40},{"p":"C","t":"-25°C","x":30.9,"y":27.3},{"p":"C","t":"-15°C","x":30.9,"y":14.7},{"p":"C","t":"0°C","x":30.9,"y":3.5}
],
"letters":[
{"p":"A","t":"A","x":37.75,"y":191},{"p":"B","t":"B","x":37.7,"y":194},{"p":"C","t":"C","x":38.4,"y":195},{"p":"D","t":"D","x":37.4,"y":194}
],
"boxes":[
{"p":"A","x":13.3,"x2":33.9,"y":-10,"y2":83},{"p":"B","x":13.6,"x2":34.5,"y":-11,"y2":82},{"p":"C","x":13.47,"x2":34.1,"y":-4.3,"y2":87.4}
]
},
"vconcat":[
{"width":628,"height":42,"data":{"values":[{"t":""}]},"mark":{"type":"text"},"encoding":{"text":{"field":"t"}}},
{"hconcat":[
{"width":312,"height":237,
"layer":[
{"encoding":{
"x":{"field":"x","type":"quantitative","scale":{"domain":[5,40],"range":[23,309],"nice":false,"zero":false},"axis":{"orient":"bottom","offset":-26,"values":[5,6,7,8,9,10,11,12,13,14,15,16,17,18,19,20,21,22,23,24,25,26,27,28,29,30,31,32,33,34,35,36,37,38,39,40],"labelExpr":"datum.value % 5 === 0 ? datum.label : ''","tickSize":{"condition":{"test":"datum.value % 5 === 0","value":4},"value":2.5},"labelFontSize":7,"labelOverlap":false,"labelFlush":false,"labelPadding":1,"title":"Two theta (°)","titleFontSize":9.5,"titlePadding":3}},
"y":{"field":"y","type":"quantitative","scale":{"domain":[0,209],"range":[211,2],"nice":false,"zero":false},"axis":{"orient":"left","offset":-23,"labels":false,"ticks":false,"title":"Intensity (arbitrary counts)","titleFontSize":9,"titlePadding":3}}},
"layer":[
{"data":{"name":"lines"},"transform":[{"filter":"datum.p==='A'"}],"mark":{"type":"line","strokeWidth":1.1},"encoding":{"color":{"field":"s","type":"nominal","scale":{"domain":["0","-15","-25","-35","-40","-40D"],"range":["#2b2b66","#3f8f45","#e8443c","#d04fd8","#f0449a","#4f7f5f"]},"legend":null}}},
{"data":{"name":"labels"},"transform":[{"filter":"datum.p==='A'"}],"mark":{"type":"text","align":"left","baseline":"middle","fontSize":9,"fontWeight":"bold"},"encoding":{"text":{"field":"t"}}},
{"data":{"name":"marks"},"transform":[{"filter":"datum.p==='A'"}],"mark":{"type":"point","filled":true,"size":26,"strokeWidth":1.6,"opacity":1},"encoding":{"fill":{"field":"ph","type":"nominal","scale":{"domain":["Disodium hydrogen phosphate dodecahydrate","Sodium chloride dihydrate","Potassium chloride","Hexagonal Ice"],"range":["black","#e8141c","#1aa34a","white"]},"legend":{"title":null,"orient":"none","legendX":0,"legendY":5,"direction":"horizontal","columns":3,"labelFont":"Liberation Serif","labelFontSize":14.4,"labelColor":"black","symbolSize":40,"symbolStrokeWidth":1.6,"columnPadding":18,"rowPadding":2,"labelLimit":400}},"stroke":{"field":"ph","type":"nominal","scale":{"domain":["Disodium hydrogen phosphate dodecahydrate","Sodium chloride dihydrate","Potassium chloride","Hexagonal Ice"],"range":["black","#e8141c","#1aa34a","black"]},"legend":{"title":null,"orient":"none","legendX":0,"legendY":5,"direction":"horizontal","columns":3,"labelFont":"Liberation Serif","labelFontSize":14.4,"labelColor":"black","symbolSize":40,"symbolStrokeWidth":1.6,"columnPadding":18,"rowPadding":2,"labelLimit":400}},"shape":{"field":"ph","type":"nominal","scale":{"domain":["Disodium hydrogen phosphate dodecahydrate","Sodium chloride dihydrate","Potassium chloride","Hexagonal Ice"],"range":["diamond","circle","triangle-up","circle"]},"legend":{"title":null,"orient":"none","legendX":0,"legendY":5,"direction":"horizontal","columns":3,"labelFont":"Liberation Serif","labelFontSize":14.4,"labelColor":"black","symbolSize":40,"symbolStrokeWidth":1.6,"columnPadding":18,"rowPadding":2,"labelLimit":400}}}},
{"data":{"name":"letters"},"transform":[{"filter":"datum.p==='A'"}],"mark":{"type":"text","align":"center","baseline":"middle","fontSize":15,"fontWeight":"bold"},"encoding":{"text":{"field":"t"}}}
]},
{"encoding":{
"x":{"field":"x","type":"quantitative","scale":{"domain":[15,30],"range":[47.7,125],"nice":false,"zero":false},"axis":{"orient":"bottom","offset":-139,"values":[15,16,17,18,19,20,21,22,23,24,25,26,27,28,29,30],"labelExpr":"datum.value % 5 === 0 ? datum.label : ''","tickSize":{"condition":{"test":"datum.value % 5 === 0","value":2.5},"value":1.5},"tickWidth":0.6,"domainWidth":0.6,"labelFontSize":4,"labelFontWeight":"normal","labelOverlap":false,"labelFlush":false,"labelPadding":0.5,"title":"2θ (°)","titleFontSize":5,"titlePadding":0.5}},
"y":{"field":"y","type":"quantitative","scale":{"domain":[-10,83],"range":[108,15],"nice":false,"zero":false},"axis":null}},
"layer":[
{"data":{"name":"boxes"},"transform":[{"filter":"datum.p==='A'"}],"mark":{"type":"rect","fill":"white","stroke":"black","strokeWidth":1},"encoding":{"x2":{"field":"x2"},"y2":{"field":"y2"}}},
{"data":{"name":"ilines"},"transform":[{"filter":"datum.p==='A'"}],"mark":{"type":"line","strokeWidth":0.7,"opacity":0.8},"encoding":{"color":{"field":"s","type":"nominal","legend":null}}},
{"data":{"name":"ilabels"},"transform":[{"filter":"datum.p==='A'"}],"mark":{"type":"text","align":"left","baseline":"middle","fontSize":4.5,"color":"#222"},"encoding":{"text":{"field":"t"}}},
{"data":{"name":"imarks"},"transform":[{"filter":"datum.p==='A'"}],"mark":{"type":"point","filled":true,"size":9,"strokeWidth":1,"opacity":1},"encoding":{"fill":{"field":"ph","type":"nominal","legend":{"title":null}},"stroke":{"field":"ph","type":"nominal","legend":{"title":null}},"shape":{"field":"ph","type":"nominal","legend":{"title":null}}}}
]}
],
"resolve":{"scale":{"x":"independent","y":"independent"},"axis":{"x":"independent","y":"independent"}}
},
{"width":316,"height":237,
"layer":[
{"encoding":{
"x":{"field":"x","type":"quantitative","scale":{"domain":[5,40],"range":[17,304],"nice":false,"zero":false},"axis":{"orient":"bottom","offset":-26,"values":[5,6,7,8,9,10,11,12,13,14,15,16,17,18,19,20,21,22,23,24,25,26,27,28,29,30,31,32,33,34,35,36,37,38,39,40],"labelExpr":"datum.value % 5 === 0 ? datum.label : ''","tickSize":{"condition":{"test":"datum.value % 5 === 0","value":4},"value":2.5},"labelFontSize":7,"labelOverlap":false,"labelFlush":false,"labelPadding":1,"title":"Two theta (°)","titleFontSize":9.5,"titlePadding":3}},
"y":{"field":"y","type":"quantitative","scale":{"domain":[0,209],"range":[211,2],"nice":false,"zero":false},"axis":{"orient":"left","offset":-17,"labels":false,"ticks":false,"title":"Intensity (arbitrary counts)","titleFontSize":9,"titlePadding":3}}},
"layer":[
{"data":{"name":"lines"},"transform":[{"filter":"datum.p==='B'"}],"mark":{"type":"line","strokeWidth":1.1},"encoding":{"color":{"field":"s","type":"nominal","legend":null}}},
{"data":{"name":"labels"},"transform":[{"filter":"datum.p==='B'"}],"mark":{"type":"text","align":"left","baseline":"middle","fontSize":9,"fontWeight":"bold"},"encoding":{"text":{"field":"t"}}},
{"data":{"name":"marks"},"transform":[{"filter":"datum.p==='B'"}],"mark":{"type":"point","filled":true,"size":26,"strokeWidth":1.6,"opacity":1},"encoding":{"fill":{"field":"ph","type":"nominal","legend":{"title":null}},"stroke":{"field":"ph","type":"nominal","legend":{"title":null}},"shape":{"field":"ph","type":"nominal","legend":{"title":null}}}},
{"data":{"name":"letters"},"transform":[{"filter":"datum.p==='B'"}],"mark":{"type":"text","align":"center","baseline":"middle","fontSize":15,"fontWeight":"bold"},"encoding":{"text":{"field":"t"}}}
]},
{"encoding":{
"x":{"field":"x","type":"quantitative","scale":{"domain":[15,30],"range":[41.7,118.7],"nice":false,"zero":false},"axis":{"orient":"bottom","offset":-139,"values":[15,16,17,18,19,20,21,22,23,24,25,26,27,28,29,30],"labelExpr":"datum.value % 5 === 0 ? datum.label : ''","tickSize":{"condition":{"test":"datum.value % 5 === 0","value":2.5},"value":1.5},"tickWidth":0.6,"domainWidth":0.6,"labelFontSize":4,"labelFontWeight":"normal","labelOverlap":false,"labelFlush":false,"labelPadding":0.5,"title":"2θ (°)","titleFontSize":5,"titlePadding":0.5}},
"y":{"field":"y","type":"quantitative","scale":{"domain":[-11,82],"range":[109,16],"nice":false,"zero":false},"axis":null}},
"layer":[
{"data":{"name":"boxes"},"transform":[{"filter":"datum.p==='B'"}],"mark":{"type":"rect","fill":"white","stroke":"black","strokeWidth":1},"encoding":{"x2":{"field":"x2"},"y2":{"field":"y2"}}},
{"data":{"name":"ilines"},"transform":[{"filter":"datum.p==='B'"}],"mark":{"type":"line","strokeWidth":0.7,"opacity":0.8},"encoding":{"color":{"field":"s","type":"nominal","legend":null}}},
{"data":{"name":"ilabels"},"transform":[{"filter":"datum.p==='B'"}],"mark":{"type":"text","align":"left","baseline":"middle","fontSize":4.5,"color":"#222"},"encoding":{"text":{"field":"t"}}},
{"data":{"name":"imarks"},"transform":[{"filter":"datum.p==='B'"}],"mark":{"type":"point","filled":true,"size":9,"strokeWidth":1,"opacity":1},"encoding":{"fill":{"field":"ph","type":"nominal","legend":{"title":null}},"stroke":{"field":"ph","type":"nominal","legend":{"title":null}},"shape":{"field":"ph","type":"nominal","legend":{"title":null}}}}
]}
],
"resolve":{"scale":{"x":"independent","y":"independent"},"axis":{"x":"independent","y":"independent"}}
}
],"spacing":0,"bounds":"flush"},
{"hconcat":[
{"width":312,"height":238,
"layer":[
{"encoding":{
"x":{"field":"x","type":"quantitative","scale":{"domain":[5,40],"range":[23,309],"nice":false,"zero":false},"axis":{"orient":"bottom","offset":-30,"values":[5,6,7,8,9,10,11,12,13,14,15,16,17,18,19,20,21,22,23,24,25,26,27,28,29,30,31,32,33,34,35,36,37,38,39,40],"labelExpr":"datum.value % 5 === 0 ? datum.label : ''","tickSize":{"condition":{"test":"datum.value % 5 === 0","value":4},"value":2.5},"labelFontSize":7,"labelOverlap":false,"labelFlush":false,"labelPadding":1,"title":"Two theta (°)","titleFontSize":9.5,"titlePadding":3}},
"y":{"field":"y","type":"quantitative","scale":{"domain":[0,205],"range":[208,3],"nice":false,"zero":false},"axis":{"orient":"left","offset":-23,"labels":false,"ticks":false,"title":"Intensity (arbitrary counts)","titleFontSize":9,"titlePadding":3}}},
"layer":[
{"data":{"name":"lines"},"transform":[{"filter":"datum.p==='C'"}],"mark":{"type":"line","strokeWidth":1.1},"encoding":{"color":{"field":"s","type":"nominal","legend":null}}},
{"data":{"name":"labels"},"transform":[{"filter":"datum.p==='C'"}],"mark":{"type":"text","align":"left","baseline":"middle","fontSize":9,"fontWeight":"bold"},"encoding":{"text":{"field":"t"}}},
{"data":{"name":"marks"},"transform":[{"filter":"datum.p==='C'"}],"mark":{"type":"point","filled":true,"size":26,"strokeWidth":1.6,"opacity":1},"encoding":{"fill":{"field":"ph","type":"nominal","legend":{"title":null}},"stroke":{"field":"ph","type":"nominal","legend":{"title":null}},"shape":{"field":"ph","type":"nominal","legend":{"title":null}}}},
{"data":{"name":"letters"},"transform":[{"filter":"datum.p==='C'"}],"mark":{"type":"text","align":"center","baseline":"middle","fontSize":15,"fontWeight":"bold"},"encoding":{"text":{"field":"t"}}}
]},
{"encoding":{
"x":{"field":"x","type":"quantitative","scale":{"domain":[15,30],"range":[47.7,123.3],"nice":false,"zero":false},"axis":{"orient":"bottom","offset":-134.3,"values":[15,16,17,18,19,20,21,22,23,24,25,26,27,28,29,30],"labelExpr":"datum.value % 5 === 0 ? datum.label : ''","tickSize":{"condition":{"test":"datum.value % 5 === 0","value":2.5},"value":1.5},"tickWidth":0.6,"domainWidth":0.6,"labelFontSize":4,"labelFontWeight":"normal","labelOverlap":false,"labelFlush":false,"labelPadding":0.3,"title":null}},
"y":{"field":"y","type":"quantitative","scale":{"domain":[-4.3,87.4],"range":[108,16.3],"nice":false,"zero":false},"axis":null}},
"layer":[
{"data":{"name":"boxes"},"transform":[{"filter":"datum.p==='C'"}],"mark":{"type":"rect","fill":"white","stroke":"black","strokeWidth":1},"encoding":{"x2":{"field":"x2"},"y2":{"field":"y2"}}},
{"data":{"name":"ilines"},"transform":[{"filter":"datum.p==='C'"}],"mark":{"type":"line","strokeWidth":0.7,"opacity":0.8},"encoding":{"color":{"field":"s","type":"nominal","legend":null}}},
{"data":{"name":"ilabels"},"transform":[{"filter":"datum.p==='C'"}],"mark":{"type":"text","align":"left","baseline":"middle","fontSize":4.5,"color":"#222"},"encoding":{"text":{"field":"t"}}},
{"data":{"name":"imarks"},"transform":[{"filter":"datum.p==='C'"}],"mark":{"type":"point","filled":true,"size":9,"strokeWidth":1,"opacity":1},"encoding":{"fill":{"field":"ph","type":"nominal","legend":{"title":null}},"stroke":{"field":"ph","type":"nominal","legend":{"title":null}},"shape":{"field":"ph","type":"nominal","legend":{"title":null}}}}
]}
],
"resolve":{"scale":{"x":"independent","y":"independent"},"axis":{"x":"independent","y":"independent"}}
},
{"width":316,"height":238,
"encoding":{
"x":{"field":"x","type":"quantitative","scale":{"domain":[5,40],"range":[17,304],"nice":false,"zero":false},"axis":{"orient":"bottom","offset":-30,"values":[5,6,7,8,9,10,11,12,13,14,15,16,17,18,19,20,21,22,23,24,25,26,27,28,29,30,31,32,33,34,35,36,37,38,39,40],"labelExpr":"datum.value % 5 === 0 ? datum.label : ''","tickSize":{"condition":{"test":"datum.value % 5 === 0","value":4},"value":2.5},"labelFontSize":7,"labelOverlap":false,"labelFlush":false,"labelPadding":1,"title":"Two theta (°)","titleFontSize":9.5,"titlePadding":3}},
"y":{"field":"y","type":"quantitative","scale":{"domain":[0,205],"range":[208,3],"nice":false,"zero":false},"axis":{"orient":"left","offset":-17,"labels":false,"ticks":false,"title":"Intensity (arbitrary counts)","titleFontSize":9,"titlePadding":3}}},
"layer":[
{"data":{"name":"lines"},"transform":[{"filter":"datum.p==='D'"}],"mark":{"type":"line","strokeWidth":1.1},"encoding":{"color":{"field":"s","type":"nominal","legend":null}}},
{"data":{"name":"labels"},"transform":[{"filter":"datum.p==='D'"}],"mark":{"type":"text","align":"left","baseline":"middle","fontSize":9,"fontWeight":"bold"},"encoding":{"text":{"field":"t"}}},
{"data":{"name":"marks"},"transform":[{"filter":"datum.p==='D'"}],"mark":{"type":"point","filled":true,"size":26,"strokeWidth":1.6,"opacity":1},"encoding":{"fill":{"field":"ph","type":"nominal","legend":{"title":null}},"stroke":{"field":"ph","type":"nominal","legend":{"title":null}},"shape":{"field":"ph","type":"nominal","legend":{"title":null}}}},
{"data":{"name":"letters"},"transform":[{"filter":"datum.p==='D'"}],"mark":{"type":"text","align":"center","baseline":"middle","fontSize":15,"fontWeight":"bold"},"encoding":{"text":{"field":"t"}}}
]}
],"spacing":0,"bounds":"flush"}
]
}
